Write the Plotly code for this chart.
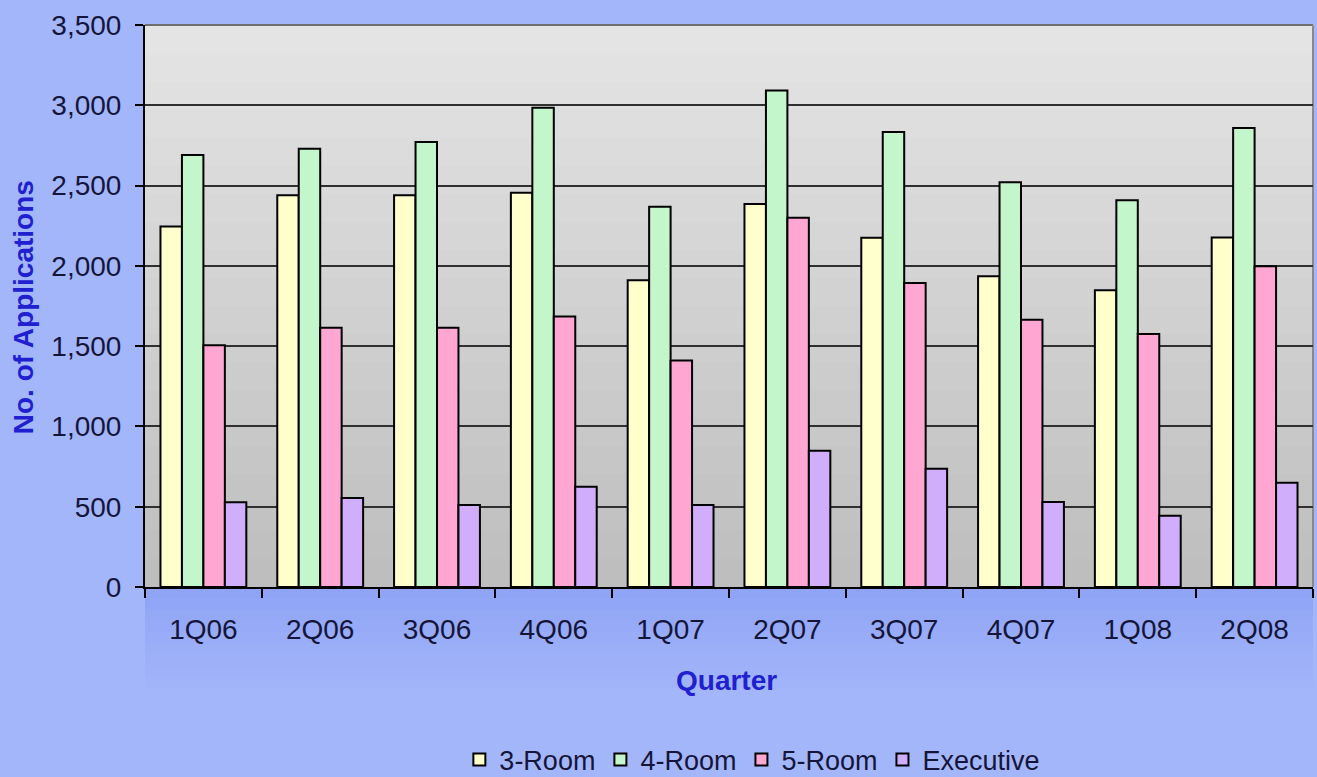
import plotly.graph_objects as go

quarters = ["1Q06", "2Q06", "3Q06", "4Q06", "1Q07", "2Q07", "3Q07", "4Q07", "1Q08", "2Q08"]
room3 = [2245, 2440, 2440, 2455, 1910, 2385, 2175, 1935, 1848, 2176]
room4 = [2690, 2730, 2772, 2985, 2368, 3092, 2833, 2520, 2408, 2858]
room5 = [1505, 1615, 1615, 1685, 1410, 2300, 1893, 1665, 1575, 1998]
executive = [528, 555, 511, 625, 511, 848, 736, 530, 443, 650]

series_names = ["3-Room", "4-Room", "5-Room", "Executive"]
series_values = [room3, room4, room5, executive]
series_colors = ["#FFFFCC", "#C4F6CC", "#FFA6D2", "#D0AEFB"]

FONT = "Arial, Liberation Sans, sans-serif"
TICK_COLOR = "#15153A"
TITLE_COLOR = "#2020D0"
PAPER = (164, 182, 250)

fig = go.Figure()
for name, vals, col in zip(series_names, series_values, series_colors):
    fig.add_trace(go.Bar(
        x=quarters, y=vals, name=name,
        marker=dict(color=col, line=dict(color="black", width=2)),
    ))

shapes = []
# background gradient of plot area (grey, lighter at top)
n = 20
top_c = (228, 228, 228)
bot_c = (190, 190, 190)
for i in range(n):
    t = i / (n - 1)
    c = tuple(int(round(bot_c[k] + (top_c[k] - bot_c[k]) * t)) for k in range(3))
    shapes.append(dict(type="rect", xref="paper", yref="paper",
                       x0=0, x1=1, y0=i / n, y1=min(1, (i + 1.6) / n),
                       fillcolor="rgb(%d,%d,%d)" % c, line=dict(width=0), layer="below"))
# darker band behind x tick labels, fading into the page colour
m = 10
band_top = (143, 164, 245)
for i in range(m):
    t = i / (m - 1)
    c = tuple(int(round(band_top[k] + (PAPER[k] - band_top[k]) * t)) for k in range(3))
    y1 = -0.2 * i / m
    y0 = -0.2 * (i + 1.6) / m if i < m - 1 else -0.2
    shapes.append(dict(type="rect", xref="paper", yref="paper", x0=0, x1=1, y0=y0, y1=y1,
                       fillcolor="rgb(%d,%d,%d)" % c, line=dict(width=0), layer="below"))
# top and right border of plot area
shapes.append(dict(type="line", xref="paper", yref="paper", x0=0, x1=1, y0=1, y1=1,
                   line=dict(color="#6E6E6E", width=2), layer="below"))
shapes.append(dict(type="line", xref="paper", yref="paper", x0=1, x1=1, y0=0, y1=1,
                   line=dict(color="#8A8A8A", width=2), layer="below"))

fig.update_layout(
    width=1317, height=777,
    margin=dict(l=145, r=4, t=25, b=190, autoexpand=False),
    paper_bgcolor="rgb(%d,%d,%d)" % PAPER,
    plot_bgcolor="rgba(0,0,0,0)",
    barmode="group", bargap=0.265, bargroupgap=0,
    font=dict(family=FONT, size=26, color=TICK_COLOR),
    shapes=shapes,
    showlegend=True,
    legend=dict(orientation="h", x=0.52, xanchor="center",
                yref="container", y=0.022, yanchor="middle",
                font=dict(family=FONT, size=27, color=TICK_COLOR),
                bgcolor="rgba(0,0,0,0)", traceorder="normal", itemclick=False,
                tracegroupgap=0, itemwidth=30),
    annotations=[
        dict(text="<b>No. of Applications</b>", xref="paper", yref="paper",
             x=-0.104, y=0.497, xanchor="center", yanchor="middle",
             textangle=-90, showarrow=False,
             font=dict(family=FONT, size=28, color=TITLE_COLOR)),
        dict(text="<b>Quarter</b>", xref="paper", yref="paper",
             x=0.498, y=-0.167, xanchor="center", yanchor="middle", showarrow=False,
             font=dict(family=FONT, size=28, color=TITLE_COLOR)),
    ],
)
fig.update_yaxes(
    range=[0, 3500], dtick=500, tickformat=",d",
    showgrid=True, gridcolor="#303030", gridwidth=1.5,
    showline=True, linecolor="black", linewidth=2,
    ticks="outside", ticklen=8, tickcolor="black", tickwidth=1.5,
    ticklabelstandoff=8, zeroline=False,
    tickfont=dict(family=FONT, size=28, color=TICK_COLOR),
)
fig.update_xaxes(
    showline=True, linecolor="black", linewidth=2,
    ticks="outside", tickson="boundaries", ticklen=9, tickcolor="black", tickwidth=1.5,
    ticklabelstandoff=16, showgrid=False,
    tickfont=dict(family=FONT, size=28, color=TICK_COLOR),
)

fig.write_html("out.html")
